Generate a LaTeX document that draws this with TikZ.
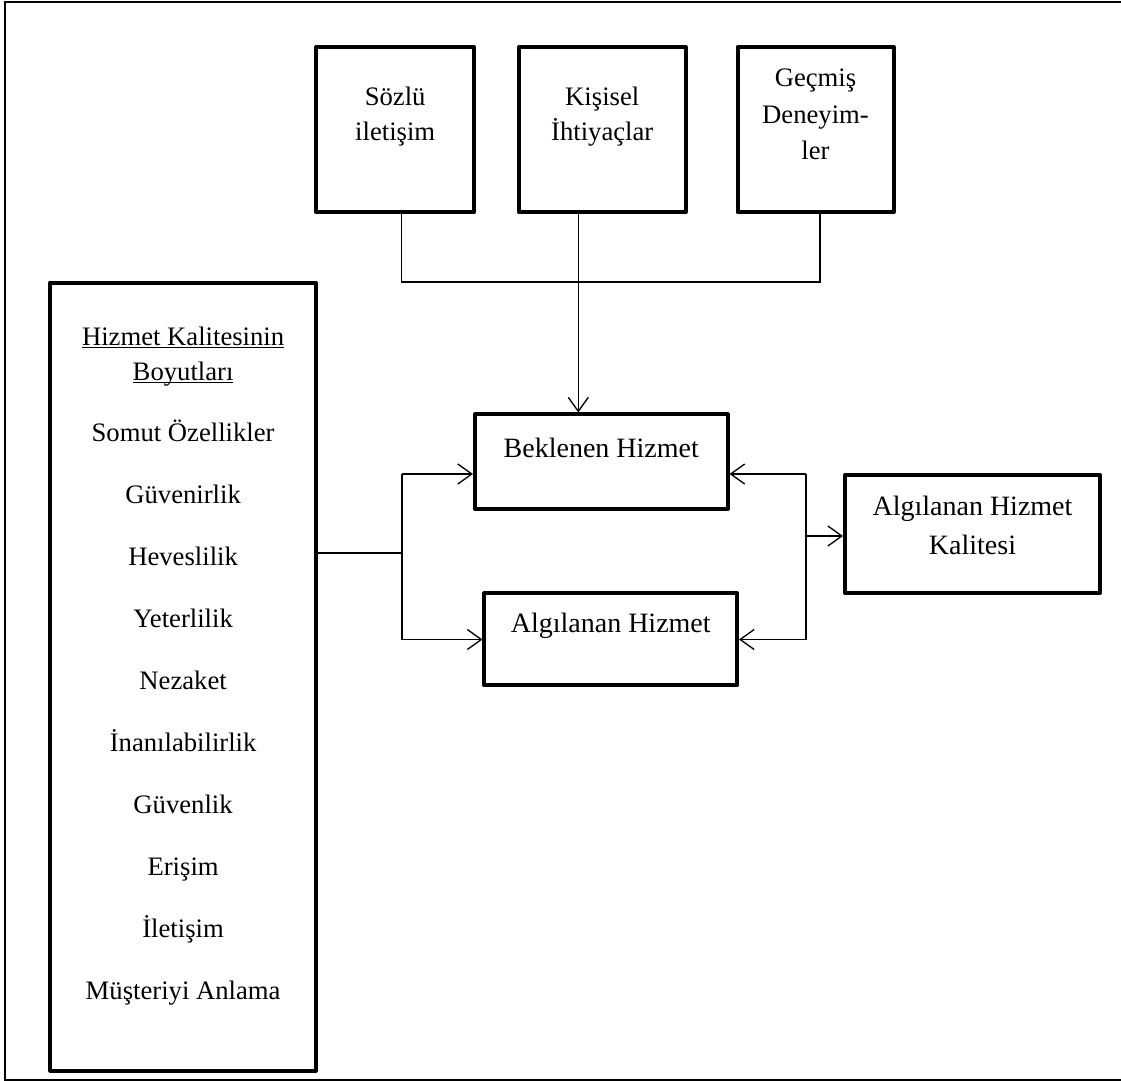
\documentclass[tikz,border=0pt]{standalone}
\usepackage{fontspec}
\setmainfont{Liberation Serif}
\usetikzlibrary{arrows.meta,calc}
\newcommand\myul[1]{\setbox0\hbox{#1}\rlap{\rule[-2.6pt]{\wd0}{0.9pt}}\box0}
\begin{document}
\begin{tikzpicture}[x=0.75pt,y=-0.75pt,
  box/.style={draw, rectangle, line width=3pt, line join=round, inner sep=0pt, outer sep=1.5pt},
  conn/.style={line width=1pt},
  arr/.style={line width=1pt, -{Straight Barb[length=10.5pt,width=15pt,line width=1pt]}},
  frame/.style={line width=1.6pt},
  txt/.style={anchor=base, inner sep=0pt, font=\fontsize{20}{24}\selectfont},
  btxt/.style={anchor=base, inner sep=0pt, font=\fontsize{21}{25}\selectfont}]
\useasboundingbox (0,0) rectangle (1121,1081);
% outer frame
\coordinate (fa) at (1121,2);
\coordinate (fb) at (5.3,2);
\coordinate (fc) at (5.3,1079.6);
\coordinate (fd) at (1121,1079.6);
\draw[frame] (fa) -- (fb) -- (fc) -- (fd);
% boxes
\node[box, minimum width=118.1pt, minimum height=124.1pt] (s1) at (395.2,129.75) {};
\node[box, minimum width=124.9pt, minimum height=124.1pt] (s2) at (602.25,129.75) {};
\node[box, minimum width=117pt, minimum height=124.1pt] (s3) at (815.5,129.75) {};
\node[box, minimum width=199pt, minimum height=591pt] (L) at (183.1,676.5) {};
\node[box, minimum width=189.4pt, minimum height=70.9pt] (B) at (601.25,461.75) {};
\node[box, minimum width=189.4pt, minimum height=69.1pt] (A) at (610.75,639.35) {};
\node[box, minimum width=191.25pt, minimum height=88.5pt] (K) at (972.5,534) {};
% texts top
\node[txt] (t1a) at (395.2,106) {Sözlü};
\node[txt] (t1b) at (395.2,141) {iletişim};
\node[txt] (t2a) at (602.25,106) {Kişisel};
\node[txt] (t2b) at (602.25,141) {İhtiyaçlar};
\node[txt] (t3a) at (815.5,87) {Geçmiş};
\node[txt] (t3b) at (815.5,123) {Deneyim-};
\node[txt] (t3c) at (815.5,159) {ler};
% main boxes
\node[btxt] (tb) at (601.25,457) {Beklenen Hizmet};
\node[btxt] (ta) at (610.75,632) {Algılanan Hizmet};
\node[btxt] (tk1) at (972.5,515) {Algılanan Hizmet};
\node[btxt] (tk2) at (972.5,554) {Kalitesi};
% left list
\node[txt] (h1) at (183.1,345) {\myul{Hizmet Kalitesinin}};
\node[txt] (h2) at (183.1,380) {\myul{Boyutları}};
\node[txt] (i1) at (183.1,441) {Somut Özellikler};
\node[txt] (i2) at (183.1,503) {Güvenirlik};
\node[txt] (i3) at (183.1,565) {Heveslilik};
\node[txt] (i4) at (183.1,627) {Yeterlilik};
\node[txt] (i5) at (183.1,689) {Nezaket};
\node[txt] (i6) at (183.1,751) {İnanılabilirlik};
\node[txt] (i7) at (183.1,813) {Güvenlik};
\node[txt] (i8) at (183.1,875) {Erişim};
\node[txt] (i9) at (183.1,937) {İletişim};
\node[txt] (i10) at (183.1,999) {Müşteriyi Anlama};
% connectors top
\coordinate (j1) at (401.7,282);
\coordinate (j3) at (820,282);
\coordinate (c2) at (578.3,282);
\draw[conn] (s1.south -| j1) -- (j1) -- (j3) -- (s3.south -| j3);
\draw[arr] (s2.south -| c2) -- (B.north -| c2);
% left connectors
\coordinate (jl) at (402,553);
\coordinate (bl) at (402,474);
\coordinate (al) at (402,639.5);
\draw[conn] (L.east |- jl) -- (jl);
\draw[conn] (bl) -- (al);
\draw[arr] (bl) -- (B.west |- bl);
\draw[arr] (al) -- (A.west |- al);
% right connectors
\coordinate (br) at (806,474);
\coordinate (ar) at (806,639.5);
\coordinate (kr) at (806,536);
\draw[conn] (br) -- (ar);
\draw[arr] (br) -- (B.east |- br);
\draw[arr] (ar) -- (A.east |- ar);
\draw[arr] (kr) -- (K.west |- kr);
\end{tikzpicture}
\end{document}
